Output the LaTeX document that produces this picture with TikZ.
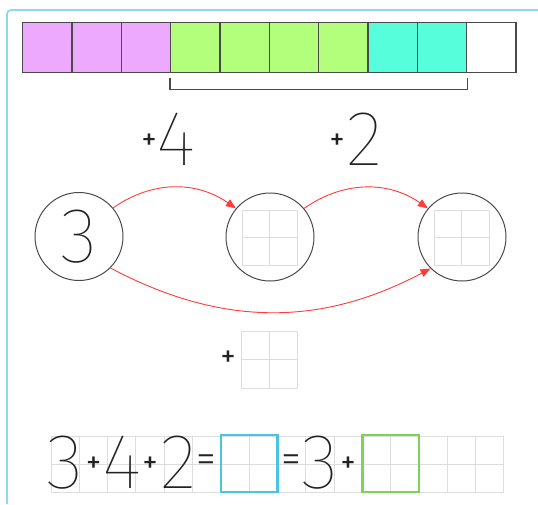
\documentclass[tikz,border=0pt]{standalone}
\usepackage{fontspec}
\usetikzlibrary{arrows.meta}
\IfFontExistsTF{Fira Sans UltraLight}{\newfontfamily\hand{Fira Sans UltraLight}}{%
  \IfFontExistsTF{Fira Sans Thin}{\newfontfamily\hand{Fira Sans Thin}}{\newfontfamily\hand{Fira Sans}}}
\IfFontExistsTF{Fira Sans Light}{\newfontfamily\eqf{Fira Sans Light}}{\newfontfamily\eqf{Fira Sans}}
\newfontfamily\symf{Fira Sans}
\definecolor{barpink}{HTML}{ECA9FE}
\definecolor{bargreen}{HTML}{B3FE7B}
\definecolor{barcyan}{HTML}{57FEDC}
\definecolor{frameblue}{HTML}{8ED8F0}
\definecolor{boxblue}{HTML}{4BC3E3}
\definecolor{boxgreen}{HTML}{7DD358}
\definecolor{gridgray}{HTML}{DDDDDD}
\definecolor{arrowred}{HTML}{FF3B3B}
\definecolor{edgegray}{HTML}{4A4A4A}
\definecolor{inkgray}{HTML}{222222}
\tikzset{
  barcell/.style={draw=edgegray, line width=1.4pt, minimum width=49.33pt, minimum height=50pt, inner sep=0pt},
  bubble/.style={circle, draw=edgegray, line width=1pt, minimum size=88pt, inner sep=0pt},
  bigdigit/.style={inner sep=0pt, text=inkgray, font=\hand\fontsize{78}{78}\selectfont},
  smallsym/.style={inner sep=0pt, text=inkgray, font=\symf\fontsize{30}{30}\selectfont},
  eqsym/.style={inner sep=0pt, text=inkgray, font=\eqf\fontsize{40}{40}\selectfont},
  redarrow/.style={draw=arrowred, line width=0.9pt, -{Triangle[length=10pt,width=8pt]}},
  gridline/.style={draw=gridgray, line width=0.9pt},
  answerbox/.style={line width=2.4pt, minimum width=56.6pt, minimum height=57pt, inner sep=0pt},
}
\begin{document}
\begin{tikzpicture}[x=1pt,y=1pt]
\useasboundingbox (0,0) rectangle (538,-504);
% frame
\draw[frameblue, line width=1.8pt, rounded corners=4pt] (7,-504) -- (7,-10) -- (540,-10);
% top bar
\foreach \i/\c in {1/barpink,2/barpink,3/barpink,4/bargreen,5/bargreen,6/bargreen,7/bargreen,8/barcyan,9/barcyan,10/white}
  \node[barcell, fill=\c] (b\i) at ({22.7+49.33*(\i-0.5)},-47.7) {};
\draw[edgegray, line width=1.2pt] ([yshift=-5pt]b4.south west) -- ([yshift=-16pt]b4.south west) -- ([yshift=-16pt]b9.south east) -- ([yshift=-5pt]b9.south east);
% labels
\node[smallsym] (p1) at (149,-142) {+};
\node[bigdigit] (l4) at (176,-139) {4};
\node[smallsym] (p2) at (337,-142) {+};
\node[bigdigit] (l2) at (365,-139) {2};
% grids inside circles
\foreach \cx in {269.5,461.5} {
  \draw[gridline] (\cx-27.5,-210) rectangle (\cx+27.5,-265);
  \draw[gridline] (\cx,-210) -- (\cx,-265);
  \draw[gridline] (\cx-27.5,-237.5) -- (\cx+27.5,-237.5);
}
% circles
\node[bubble, bigdigit] (c1) at (79,-236.5) {3};
\node[bubble] (c2) at (270,-237) {};
\node[bubble] (c3) at (462,-237) {};
% arrows
\draw[redarrow] (c1.40) to[out=35,in=145] (c2.140);
\draw[redarrow] (c2.40) to[out=35,in=145] (c3.140);
\draw[redarrow] (c1.-45) to[out=-28,in=-152] (c3.-135);
% plus with small grid
\node[smallsym] (p3) at (228,-359) {+};
\draw[gridline] (241,-331) rectangle (297,-388);
\draw[gridline] (269,-331) -- (269,-388);
\draw[gridline] (241,-359.5) -- (297,-359.5);
% bottom grid
\foreach \k in {0,...,16}
  \draw[gridline] ({51+28.3*\k},-436.5) -- ({51+28.3*\k},-492);
\foreach \yy in {436.5,464.25,492}
  \draw[gridline] (51,-\yy) -- (503.8,-\yy);
% equation
\node[bigdigit] (e1) at (65.2,-462.5) {3};
\node[smallsym] (e2) at (93.5,-465) {+};
\node[bigdigit] (e3) at (121.8,-462.5) {4};
\node[smallsym] (e4) at (150.1,-465) {+};
\node[bigdigit] (e5) at (178.4,-462.5) {2};
\node[eqsym] (e6) at (206.7,-464) {=};
\node[answerbox, draw=boxblue] (e7) at (249.1,-463.2) {};
\node[eqsym] (e8) at (291.5,-464) {=};
\node[bigdigit] (e9) at (319.8,-462.5) {3};
\node[smallsym] (e10) at (348.1,-465) {+};
\node[answerbox, draw=boxgreen] (e11) at (390.6,-463.2) {};
\end{tikzpicture}
\end{document}
